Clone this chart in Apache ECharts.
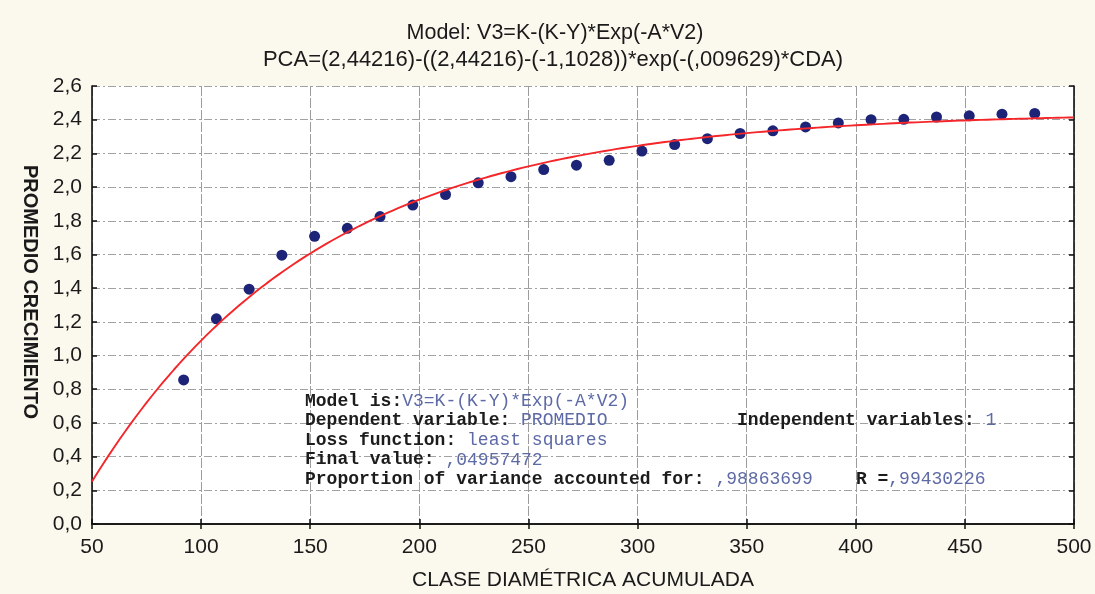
<!DOCTYPE html>
<html>
<head>
<meta charset="utf-8">
<script src="https://cdn.jsdelivr.net/npm/echarts@6/dist/echarts.min.js"></script>
<style>
  html, body { margin: 0; padding: 0; background: #fbf8ee; }
  #chart { width: 1095px; height: 594px; }
</style>
</head>
<body>
<div id="chart"></div>
<script>
// Observed class means: cumulative diameter class vs. mean growth
const claseDiametrica = [92, 107, 122, 137, 152, 167, 182, 197, 212, 227, 242, 257, 272, 287,
  302, 317, 332, 347, 362, 377, 392, 407, 422, 437, 452, 467, 482];
const promedioCrecimiento = [0.855, 1.218, 1.394, 1.596, 1.708, 1.755, 1.825, 1.893, 1.956, 2.025,
  2.062, 2.104, 2.13, 2.159, 2.214, 2.252, 2.287, 2.318, 2.334, 2.357, 2.381, 2.40, 2.402, 2.416,
  2.423, 2.433, 2.437];

// Fitted parameters of V3 = K - (K - Y) * exp(-A * V2)
const K = 2.44216;
const Y0 = -1.1028;
const A = 0.009629;

const xTicks = { min: 50, max: 500, step: 50 };
const yTicks = { min: 0, max: 2.6, step: 0.2 };

const titleLines = [
  'Model: V3=K-(K-Y)*Exp(-A*V2)',
  'PCA=(2,44216)-((2,44216)-(-1,1028))*exp(-(,009629)*CDA)'
];

// Summary block: each line is a list of [label, value] pieces
const summaryLines = [
  [['Model is:', 'V3=K-(K-Y)*Exp(-A*V2)']],
  [['Dependent variable: ', 'PROMEDIO'], ['            Independent variables: ', '1']],
  [['Loss function: ', 'least squares']],
  [['Final value: ', ',04957472']],
  [['Proportion of variance accounted for: ', ',98863699'], ['    R =', ',99430226']]
];

// Fitted curve sampled along the x range
const curve = [];
for (let x = xTicks.min; x <= xTicks.max + 1e-9; x += 2.5) {
  curve.push([x, K - (K - Y0) * Math.exp(-A * x)]);
}

const points = claseDiametrica.map((x, i) => [x, promedioCrecimiento[i]]);

const esc = s => s.replace(/[{}|]/g, '');
const mono = '"Liberation Mono", "DejaVu Sans Mono", monospace';
const summaryGraphics = summaryLines.map((line, i) => ({
  type: 'text',
  left: 305,
  top: 392 + i * 19.6,
  style: {
    text: line.map(([l, v]) => '{b|' + esc(l) + '}{v|' + esc(v) + '}').join(''),
    rich: {
      b: { fontFamily: mono, fontSize: 18, fontWeight: 'bold', fill: '#1c1c1c' },
      v: { fontFamily: mono, fontSize: 18, fill: '#5d6aa6' }
    }
  },
  z: 10
}));

const frameAxis = {
  axisLine: { show: true, lineStyle: { color: '#111', width: 1.6 } },
  axisTick: { show: true, inside: true, length: 5, lineStyle: { color: '#111', width: 1.5 } },
  axisLabel: { show: false },
  splitLine: { show: false }
};

const sans = '"Liberation Sans", Arial, sans-serif';

const chart = echarts.init(document.getElementById('chart'), null, { renderer: 'canvas' });
chart.setOption({
  backgroundColor: '#fbf8ee',
  animation: false,
  grid: {
    left: 92, right: 21, top: 86, bottom: 70,
    show: true, backgroundColor: '#ffffff', borderWidth: 0
  },
  xAxis: [
    {
      type: 'value', position: 'bottom',
      min: xTicks.min, max: xTicks.max, interval: xTicks.step,
      axisLine: { show: true, onZero: false, lineStyle: { color: '#111', width: 1.6 } },
      axisTick: { show: true, inside: true, length: 5, lineStyle: { color: '#111', width: 1.5 } },
      axisLabel: { margin: 13, color: '#1a1a1a', fontSize: 21, fontFamily: '"Liberation Sans Narrow", ' + sans },
      splitLine: { show: true, lineStyle: { color: '#9c9c9c', width: 1, type: [10, 2] } }
    },
    Object.assign({ type: 'value', position: 'top', min: xTicks.min, max: xTicks.max, interval: xTicks.step }, frameAxis)
  ],
  yAxis: [
    {
      type: 'value', position: 'left',
      min: yTicks.min, max: yTicks.max, interval: yTicks.step,
      axisLine: { show: true, onZero: false, lineStyle: { color: '#111', width: 1.6 } },
      axisTick: { show: true, inside: true, length: 5, lineStyle: { color: '#111', width: 1.5 } },
      axisLabel: {
        margin: 10, color: '#1a1a1a', fontSize: 21, fontFamily: sans,
        formatter: v => v.toFixed(1).replace('.', ',')
      },
      splitLine: { show: true, lineStyle: { color: '#a2a2a2', width: 1, type: [8, 3, 2, 3] } }
    },
    Object.assign({ type: 'value', position: 'right', min: yTicks.min, max: yTicks.max, interval: yTicks.step }, frameAxis)
  ],
  series: [
    {
      type: 'scatter',
      data: points,
      symbol: 'circle',
      symbolSize: 11,
      itemStyle: { color: '#1d2478', opacity: 1 },
      z: 3
    },
    {
      type: 'line',
      data: curve,
      showSymbol: false,
      smooth: false,
      lineStyle: { color: '#f5262a', width: 1.9 },
      z: 4
    }
  ],
  graphic: [
    {
      type: 'text', x: 555, y: 33,
      style: { text: titleLines[0], fontSize: 21.5, fontFamily: sans, fill: '#1a1a1a', align: 'center', verticalAlign: 'middle' }
    },
    {
      type: 'text', x: 553, y: 60,
      style: { text: titleLines[1], fontSize: 22, fontFamily: sans, fill: '#1a1a1a', align: 'center', verticalAlign: 'middle' }
    },
    {
      type: 'text', x: 583, y: 580,
      style: { text: 'CLASE DIAMÉTRICA ACUMULADA', fontSize: 21, fontFamily: '"Liberation Sans Narrow", ' + sans, fill: '#1a1a1a', align: 'center', verticalAlign: 'middle' }
    },
    {
      type: 'text', x: 30, y: 292, rotation: -Math.PI / 2,
      style: { text: 'PROMEDIO CRECIMIENTO', fontSize: 20, fontWeight: 'bold', fontFamily: sans, fill: '#1a1a1a', align: 'center', verticalAlign: 'middle' }
    }
  ].concat(summaryGraphics)
});
</script>
</body>
</html>
